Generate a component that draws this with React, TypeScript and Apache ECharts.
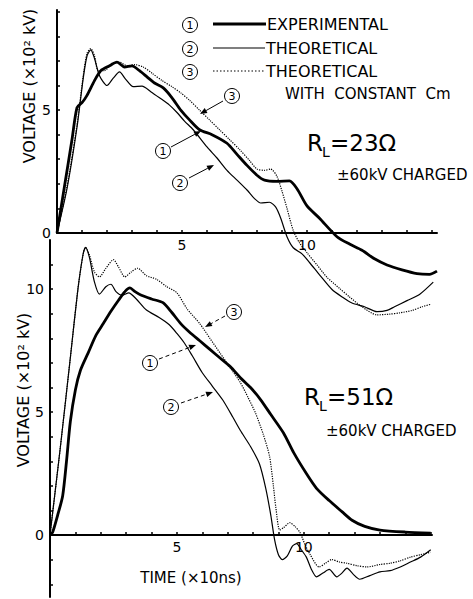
import React, { useEffect, useRef } from "react";
import * as echarts from "echarts";

const FONT = "DejaVu Sans";

// ---- data (time in ×10 ns, voltage in ×10² kV) ----
const topExperimental: number[][] = [
  [0, 0], [0.3, 1.9], [0.6, 3.8], [0.8, 5.1], [1.0, 5.3], [1.2, 5.6], [1.5, 6.2], [1.75, 6.6], [2.1, 6.8],
  [2.4, 6.95], [2.7, 6.75], [3.0, 6.8], [3.3, 6.6], [3.6, 6.35], [3.9, 6.1], [4.25, 5.9], [4.6, 5.5],
  [4.95, 5.0], [5.3, 4.6], [5.7, 4.2], [6.2, 4.0], [6.8, 3.65], [7.2, 3.2], [7.6, 2.75], [8.0, 2.35],
  [8.3, 2.15], [8.8, 2.1], [9.3, 2.12], [9.6, 1.8], [10.0, 1.1], [10.5, 0.6], [11.2, -0.15], [11.7, -0.45],
  [12.2, -0.7], [12.7, -1.05], [13.2, -1.3], [13.8, -1.5], [14.4, -1.65], [14.9, -1.68], [15.2, -1.55],
];
const topTheoretical: number[][] = [
  [0, 0], [0.4, 1.8], [0.8, 4.3], [1.05, 6.3], [1.2, 7.2], [1.35, 7.45], [1.5, 7.1], [1.7, 6.4], [2.0, 6.0],
  [2.25, 6.3], [2.5, 6.55], [2.75, 6.25], [3.05, 5.95], [3.4, 5.97], [3.75, 5.75], [4.1, 5.5], [4.5, 5.2],
  [4.8, 4.9], [5.1, 4.55], [5.45, 4.2], [6.0, 3.5], [6.4, 3.05], [6.8, 2.55], [7.2, 2.15], [7.6, 1.75],
  [7.9, 1.4], [8.15, 1.22], [8.5, 1.25], [8.75, 1.05], [8.95, 0.6], [9.2, -0.15], [9.45, -0.6], [9.8, -0.85],
  [10.1, -1.2], [10.5, -1.7], [11.0, -2.3], [11.4, -2.6], [11.8, -2.85], [12.3, -3.0], [12.8, -3.2],
  [13.2, -3.15], [13.5, -3.0], [14.0, -2.75], [14.5, -2.5], [15.05, -2.0],
];
const topConstantCm: number[][] = [
  [0, 0], [0.4, 1.9], [0.8, 4.4], [1.05, 6.4], [1.2, 7.3], [1.35, 7.5], [1.5, 7.2], [1.65, 6.6], [1.9, 6.6],
  [2.2, 6.9], [2.5, 6.95], [2.8, 6.8], [3.1, 6.85], [3.45, 6.75], [3.8, 6.5], [4.2, 6.2], [4.6, 5.95],
  [4.95, 5.7], [5.3, 5.4], [5.7, 5.0], [6.1, 4.6], [6.5, 4.2], [6.9, 3.8], [7.3, 3.4], [7.7, 2.95],
  [8.0, 2.6], [8.3, 2.55], [8.55, 2.6], [8.8, 2.3], [9.0, 1.7], [9.2, 1.0], [9.45, 0.1], [9.7, -0.4],
  [10.0, -0.8], [10.4, -1.3], [10.8, -1.8], [11.3, -2.25], [11.7, -2.6], [12.2, -3.0], [12.8, -3.33],
  [13.3, -3.3], [13.7, -3.25], [14.2, -3.15], [14.6, -3.0], [14.95, -2.9],
];

const bottomExperimental: number[][] = [
  [0, 0], [0.1, 0.1], [0.3, 0.8], [0.5, 1.6], [0.65, 3.0], [0.8, 4.6], [1.0, 5.9], [1.2, 6.7], [1.5, 7.4],
  [1.8, 8.1], [2.1, 8.6], [2.4, 9.1], [2.7, 9.55], [2.95, 9.9], [3.15, 10.05], [3.35, 9.9], [3.6, 9.75],
  [4.0, 9.6], [4.45, 9.45], [4.8, 9.05], [5.15, 8.6], [5.5, 8.25], [5.9, 7.9], [6.3, 7.55], [6.7, 7.2],
  [7.1, 6.85], [7.5, 6.4], [7.9, 6.0], [8.3, 5.5], [8.7, 4.9], [9.2, 4.15], [9.6, 3.35], [10.1, 2.5],
  [10.5, 1.9], [11.0, 1.4], [11.5, 0.95], [11.9, 0.6], [12.4, 0.35], [13.0, 0.2], [14.0, 0.12], [15.0, 0.08],
];
const bottomTheoretical: number[][] = [
  [0, 0], [0.4, 3.5], [0.8, 7.2], [1.1, 10.0], [1.3, 11.4], [1.4, 11.7], [1.55, 11.3], [1.75, 10.3],
  [1.95, 9.8], [2.2, 10.1], [2.4, 10.2], [2.6, 9.9], [2.85, 9.75], [3.1, 9.85], [3.4, 9.6], [3.8, 9.15],
  [4.3, 8.85], [4.7, 8.55], [5.0, 8.2], [5.3, 7.8], [5.6, 7.3], [6.0, 6.6], [6.4, 6.05], [6.8, 5.5],
  [7.2, 4.8], [7.5, 4.25], [7.9, 3.6], [8.25, 2.9], [8.5, 1.9], [8.7, 0.8], [8.85, -0.2], [9.0, -0.8],
  [9.15, -1.0], [9.35, -0.85], [9.55, -0.45], [9.72, -0.35], [9.9, -0.6], [10.1, -0.9], [10.3, -1.4],
  [10.5, -1.7], [10.75, -1.55], [11.0, -1.4], [11.3, -1.7], [11.5, -1.55], [11.7, -1.35], [11.95, -1.6],
  [12.2, -1.8], [12.6, -1.65], [13.0, -1.5], [13.4, -1.45], [13.8, -1.3], [14.2, -1.1], [14.6, -0.9],
  [15.0, -0.6],
];
const bottomConstantCm: number[][] = [
  [0, 0], [0.4, 3.5], [0.8, 7.2], [1.1, 10.0], [1.3, 11.4], [1.4, 11.7], [1.55, 11.4], [1.75, 10.7],
  [1.95, 10.5], [2.2, 10.85], [2.5, 11.2], [2.7, 10.9], [2.95, 10.5], [3.2, 10.7], [3.45, 10.85],
  [3.8, 10.55], [4.2, 10.4], [4.6, 10.1], [5.0, 9.85], [5.4, 9.2], [5.9, 8.6], [6.3, 8.0], [6.7, 7.4],
  [7.1, 6.8], [7.5, 6.2], [7.8, 5.6], [8.1, 4.95], [8.4, 4.1], [8.65, 3.2], [8.8, 2.0], [8.9, 1.1],
  [9.05, 0.2], [9.2, 0.3], [9.45, 0.5], [9.65, 0.35], [9.85, 0.1], [10.05, -0.4], [10.25, -0.8],
  [10.6, -1.3], [10.85, -1.15], [11.1, -1.0], [11.4, -1.1], [11.7, -1.15], [12.1, -1.25], [12.5, -1.3],
  [13.0, -1.2], [13.4, -1.15], [13.8, -1.05], [14.2, -0.9], [14.6, -0.8], [15.0, -0.7],
];

const xTickValues = [1, 2, 3, 4, 5, 6, 7, 8, 9, 10, 11, 12, 13, 14, 15];
const xLabelValues = [5, 10];
const topYTicks = [1, 2, 3, 4, 5, 6, 7, 8, 9];
const topYLabels = [0, 5];
const bottomYTicks = [1, 2, 3, 4, 5, 6, 7, 8, 9, 10, 11];
const bottomYLabels = [0, 5, 10];
const belowZeroTicks = [-2, -1];

const legendNames = ["EXPERIMENTAL", "THEORETICAL", "THEORETICAL"];

function circled(n: string, x: number, y: number, r = 7.5) {
  return {
    type: "group",
    children: [
      { type: "circle", shape: { cx: x, cy: y, r }, style: { fill: "none", stroke: "#000", lineWidth: 1 } },
      {
        type: "text", x, y: y + 0.5,
        style: { text: n, font: `${Math.round(r * 1.45)}px "${FONT}"`, fill: "#000", align: "center", verticalAlign: "middle" },
      },
    ],
  };
}

function arrow(x1: number, y1: number, x2: number, y2: number, dashed = false) {
  const a = Math.atan2(y2 - y1, x2 - x1);
  const L = 7, W = 2.8;
  const bx = x2 - L * Math.cos(a), by = y2 - L * Math.sin(a);
  const px = -Math.sin(a) * W, py = Math.cos(a) * W;
  return [
    {
      type: "line",
      shape: { x1, y1, x2: bx, y2: by },
      style: { stroke: "#000", lineWidth: 1, lineDash: dashed ? [4, 3] : null },
    },
    {
      type: "polygon",
      shape: { points: [[x2, y2], [bx + px, by + py], [bx - px, by - py]] },
      style: { fill: "#000" },
    },
  ];
}

function txt(text: string, x: number, y: number, size: number, align = "left", rotation = 0) {
  return {
    type: "text", x, y, rotation,
    style: { text, font: `${size}px "${FONT}"`, fill: "#000", align, verticalAlign: "middle" },
  };
}

function makeAxisX(gridIndex: number, max: number, show = true) {
  return {
    type: "value", gridIndex, min: 0, max, show,
    axisLine: { onZero: false, lineStyle: { color: "#000", width: 2 } },
    axisTick: { customValues: xTickValues, inside: true, length: 3, lineStyle: { color: "#000", width: 1.5 } },
    axisLabel: { customValues: xLabelValues, color: "#000", fontSize: 14, fontFamily: FONT, margin: 5 },
    splitLine: { show: false },
  };
}

function makeAxisY(gridIndex: number, min: number, max: number, ticks: number[], labels: number[]) {
  return {
    type: "value", gridIndex, min, max,
    axisLine: { show: true, onZero: false, lineStyle: { color: "#000", width: 2 } },
    axisTick: { customValues: ticks, inside: true, length: 3, lineStyle: { color: "#000", width: 1.5 } },
    axisLabel: { show: labels.length > 0, customValues: labels, color: "#000", fontSize: 14, fontFamily: FONT, margin: 6 },
    splitLine: { show: false },
  };
}

function lineSeries(name: string, data: number[][], idx: number, kind: number) {
  const style =
    kind === 0 ? { color: "#000", width: 2.8, type: "solid" } :
    kind === 1 ? { color: "#000", width: 1.2, type: "solid" } :
      { color: "#000", width: 1.2, type: "dotted" };
  return {
    type: "line", name, data, xAxisIndex: idx, yAxisIndex: idx,
    showSymbol: false, symbol: "none", smooth: 0.25, clip: false,
    lineStyle: style, z: kind === 0 ? 3 : 2,
  };
}

export default function App() {
  const ref = useRef<HTMLDivElement>(null);
  useEffect(() => {
    if (!ref.current) return;
    const chart = echarts.init(ref.current, null, { renderer: "svg" });

    const graphics: any[] = [
      // legend
      circled("1", 190, 25), circled("2", 190, 49), circled("3", 190, 72),
      { type: "line", shape: { x1: 213, y1: 24, x2: 266, y2: 24 }, style: { stroke: "#000", lineWidth: 2.8 } },
      { type: "line", shape: { x1: 213, y1: 48, x2: 265, y2: 48 }, style: { stroke: "#000", lineWidth: 1.2 } },
      { type: "line", shape: { x1: 213, y1: 71, x2: 265, y2: 71 }, style: { stroke: "#000", lineWidth: 1.2, lineDash: [1.5, 2] } },
      txt(legendNames[0], 267, 24, 16),
      txt(legendNames[1], 266, 48, 16),
      txt(legendNames[2], 266, 71, 16),
      txt("WITH  CONSTANT  Cm", 285, 94, 15),
      // top panel labels
      txt("R", 307, 143, 23),
      txt("L", 322, 152, 14),
      txt("=23Ω", 330, 143, 23),
      txt("±60kV CHARGED", 337, 175, 15),
      // bottom panel labels
      txt("R", 304, 397, 23),
      txt("L", 319, 406, 14),
      txt("=51Ω", 327, 397, 23),
      txt("±60kV CHARGED", 326, 431, 15),
      // axis names
      txt("VOLTAGE (×10² kV)", 29, 86, 16, "center", Math.PI / 2),
      txt("VOLTAGE (×10² kV)", 23, 390, 16, "center", Math.PI / 2),
      txt("TIME (×10ns)", 191, 578, 15, "center"),
      // annotations top
      circled("3", 232, 96), ...arrow(223, 101, 200, 114),
      circled("1", 163, 151), ...arrow(171, 147, 201, 131),
      circled("2", 180, 183), ...arrow(189, 178, 214, 165),
      // annotations bottom
      circled("3", 234, 312), ...arrow(225, 316, 205, 327, true),
      circled("1", 150, 363), ...arrow(159, 359, 196, 345, true),
      circled("2", 171, 407), ...arrow(181, 403, 213, 392, true),
    ];

    const hiddenX = {
      type: "value", gridIndex: 2, min: 0, max: 15.05, show: false,
      splitLine: { show: false },
    };

    chart.setOption({
      animation: false,
      backgroundColor: "#fff",
      grid: [
        { left: 57, top: 10, width: 380, height: 223 },
        { left: 50, top: 240, width: 382, height: 295 },
        { left: 50, top: 535, width: 382, height: 62 },
      ],
      xAxis: [makeAxisX(0, 15.2), makeAxisX(1, 15.05), hiddenX],
      yAxis: [
        makeAxisY(0, 0, 9.07, topYTicks, topYLabels),
        makeAxisY(1, 0, 12, bottomYTicks, bottomYLabels),
        makeAxisY(2, -2.5, 0, belowZeroTicks, []),
      ],
      series: [
        lineSeries("EXPERIMENTAL", topExperimental, 0, 0),
        lineSeries("THEORETICAL", topTheoretical, 0, 1),
        lineSeries("THEORETICAL WITH CONSTANT Cm", topConstantCm, 0, 2),
        lineSeries("EXPERIMENTAL", bottomExperimental, 1, 0),
        lineSeries("THEORETICAL", bottomTheoretical, 1, 1),
        lineSeries("THEORETICAL WITH CONSTANT Cm", bottomConstantCm, 1, 2),
      ],
      graphic: graphics,
    });
    return () => chart.dispose();
  }, []);
  return (
    <div
      ref={ref}
      style={{ position: "fixed", left: 0, top: 0, width: 473, height: 599, background: "#fff" }}
    />
  );
}
